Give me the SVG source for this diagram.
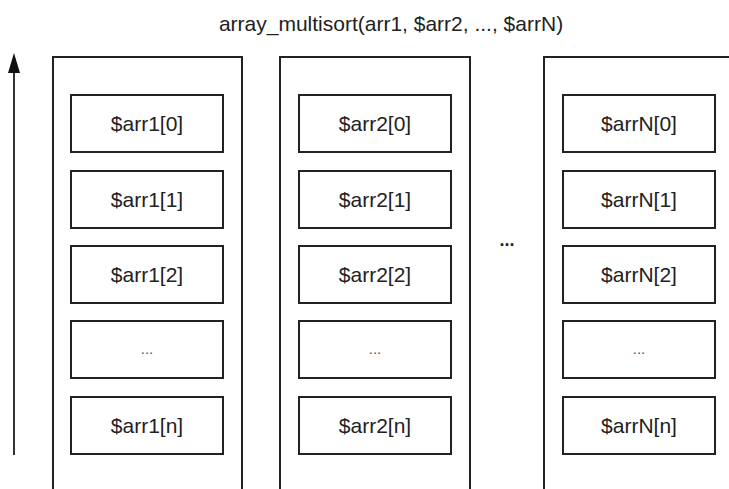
<svg xmlns="http://www.w3.org/2000/svg" width="729" height="489" viewBox="0 0 729 489">
<style>
.outer{fill:none;stroke:#222;stroke-width:2}
.cell{fill:#fff;stroke:#222;stroke-width:2}
.lbl{font-family:"Liberation Sans",Arial,sans-serif;font-size:21px;fill:#222;text-anchor:middle}
.dots{font-family:"Liberation Sans",Arial,sans-serif;font-size:15px;fill:#555;text-anchor:middle}
.title{font-family:"Liberation Sans",Arial,sans-serif;font-size:21px;fill:#222;text-anchor:middle}
</style>
<rect width="729" height="489" fill="#fff"/>
<text class="title" x="391" y="31">array_multisort(arr1, $arr2, ..., $arrN)</text>
<g id="connectors">
<line x1="14" y1="455" x2="14" y2="70" stroke="#333" stroke-width="2"/>
<polygon points="14,53 8,73 20,73" fill="#111"/>
</g>
<g id="col1">
<rect class="outer" x="53" y="57" width="189" height="450"/>
<g id="arr1_0"><rect class="cell" x="71" y="95" width="152" height="57"/><text class="lbl" x="147" y="131">$arr1[0]</text></g>
<g id="arr1_1"><rect class="cell" x="71" y="171" width="152" height="57"/><text class="lbl" x="147" y="207">$arr1[1]</text></g>
<g id="arr1_2"><rect class="cell" x="71" y="246" width="152" height="57"/><text class="lbl" x="147" y="282">$arr1[2]</text></g>
<g id="arr1_d"><rect class="cell" x="71" y="321" width="152" height="57"/><text class="dots" x="147" y="354">...</text></g>
<g id="arr1_n"><rect class="cell" x="71" y="397" width="152" height="57"/><text class="lbl" x="147" y="433">$arr1[n]</text></g>
</g>
<g id="col2">
<rect class="outer" x="280" y="57" width="190" height="450"/>
<g id="arr2_0"><rect class="cell" x="299" y="95" width="152" height="57"/><text class="lbl" x="375" y="131">$arr2[0]</text></g>
<g id="arr2_1"><rect class="cell" x="299" y="171" width="152" height="57"/><text class="lbl" x="375" y="207">$arr2[1]</text></g>
<g id="arr2_2"><rect class="cell" x="299" y="246" width="152" height="57"/><text class="lbl" x="375" y="282">$arr2[2]</text></g>
<g id="arr2_d"><rect class="cell" x="299" y="321" width="152" height="57"/><text class="dots" x="375" y="354">...</text></g>
<g id="arr2_n"><rect class="cell" x="299" y="397" width="152" height="57"/><text class="lbl" x="375" y="433">$arr2[n]</text></g>
</g>
<g id="between">
<text x="507" y="246" font-family="Liberation Sans, Arial, sans-serif" font-size="18" font-weight="bold" fill="#222" text-anchor="middle">...</text>
</g>
<g id="col3">
<rect class="outer" x="544" y="57" width="190" height="450"/>
<g id="arrN_0"><rect class="cell" x="563" y="95" width="152" height="57"/><text class="lbl" x="639" y="131">$arrN[0]</text></g>
<g id="arrN_1"><rect class="cell" x="563" y="171" width="152" height="57"/><text class="lbl" x="639" y="207">$arrN[1]</text></g>
<g id="arrN_2"><rect class="cell" x="563" y="246" width="152" height="57"/><text class="lbl" x="639" y="282">$arrN[2]</text></g>
<g id="arrN_d"><rect class="cell" x="563" y="321" width="152" height="57"/><text class="dots" x="639" y="354">...</text></g>
<g id="arrN_n"><rect class="cell" x="563" y="397" width="152" height="57"/><text class="lbl" x="639" y="433">$arrN[n]</text></g>
</g>
</svg>
